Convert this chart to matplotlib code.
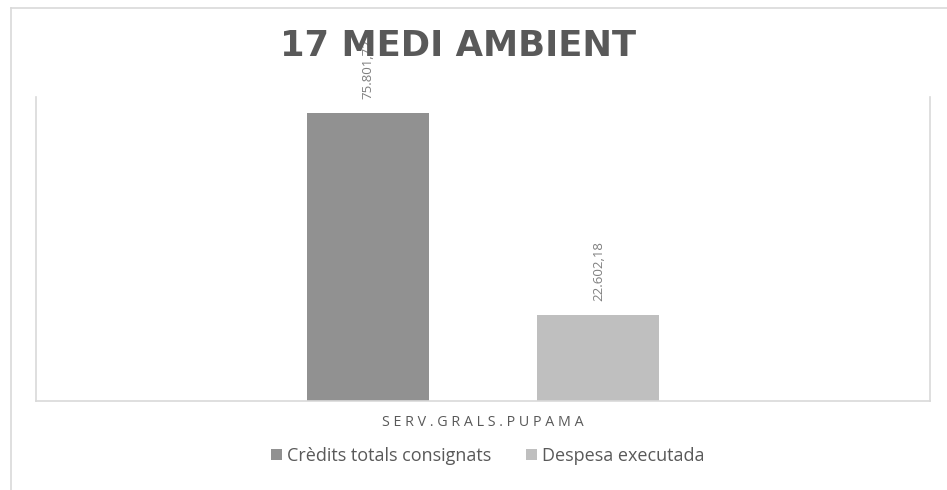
import matplotlib
matplotlib.use("Agg")
import matplotlib.pyplot as plt
from matplotlib.lines import Line2D
from matplotlib.patches import Patch

category = "SERV.GRALS.PUPAMA"
series_names = ["Crèdits totals consignats", "Despesa executada"]
values = [75801.72, 22602.18]
value_labels = ["75.801,72", "22.602,18"]
colors = ["#919191", "#BFBFBF"]
ymax = 80000

plt.rcParams['font.family'] = ['Open Sans', 'DejaVu Sans']

fig = plt.figure(figsize=(9.47, 4.90), dpi=100)
W, H = 947, 490
ax = fig.add_axes([36 / W, 1 - 401 / H, (930 - 36) / W, (401 - 97) / H])

offsets = [-0.129, 0.129]
width = 0.1365
for off, v, c, lab in zip(offsets, values, colors, value_labels):
    ax.bar(off, v, width=width, color=c, zorder=2)
    ax.annotate(lab, (off, v), xytext=(0, 10), textcoords="offset points",
                rotation=90, ha="center", va="bottom", fontsize=9.5,
                color="#7F7F7F", zorder=6, annotation_clip=False)

ax.set_xlim(-0.5, 0.5)
ax.set_ylim(0, ymax)
ax.set_yticks([])
ax.set_xticks([0])
ax.set_xticklabels([" ".join(category)], fontsize=10.3, color="#595959")
ax.tick_params(axis="x", length=0, pad=10)
for s in ["left", "right", "bottom"]:
    ax.spines[s].set_color("#D9D9D9")
    ax.spines[s].set_linewidth(1.2)
ax.spines["top"].set_visible(False)

fig.text(458 / W, 1 - 46 / H, "17 MEDI AMBIENT", ha="center", va="center",
         fontsize=25.5, fontweight="bold", color="#595959", zorder=5,
         family="DejaVu Sans")

# outer chart frame
fig.add_artist(Line2D([11 / W, 11 / W], [0, 1 - 8 / H], transform=fig.transFigure,
                      color="#D9D9D9", lw=1.2))
fig.add_artist(Line2D([11 / W, 1], [1 - 8 / H, 1 - 8 / H], transform=fig.transFigure,
                      color="#D9D9D9", lw=1.2))

handles = [Patch(facecolor=c, edgecolor="none") for c in colors]
fig.legend(handles, series_names, loc="center", bbox_to_anchor=(488 / W, 1 - 456 / H),
           ncol=2, frameon=False, fontsize=13, labelcolor="#595959",
           handlelength=0.6, handleheight=0.6, handletextpad=0.3, columnspacing=1.9,
           borderpad=0)

fig.savefig("out.png", dpi=100, facecolor="white")
